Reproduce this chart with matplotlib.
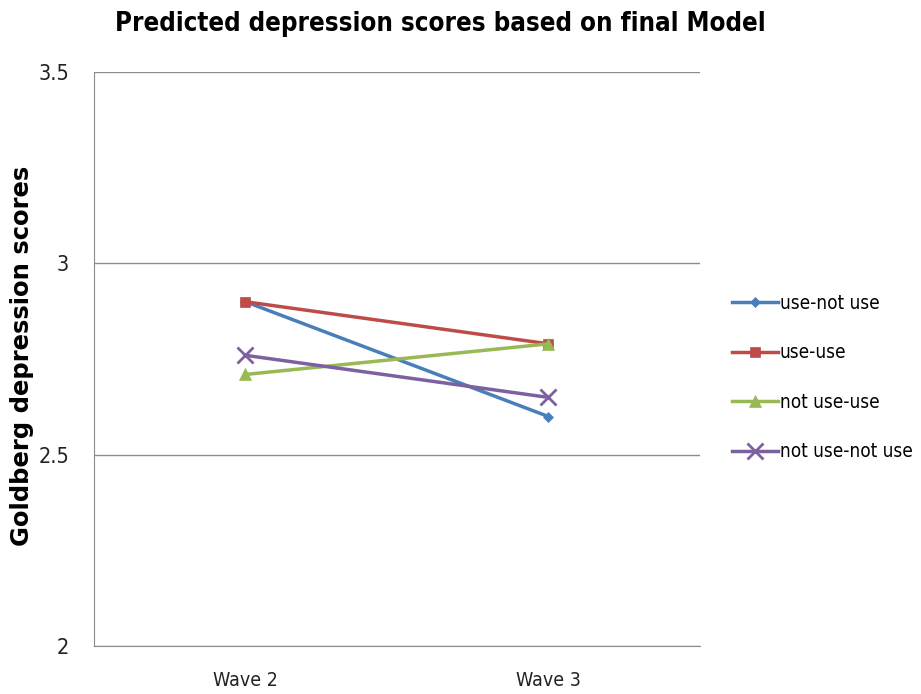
import matplotlib.pyplot as plt

plt.rcParams['font.family'] = ['DejaVu Sans']
plt.rcParams['font.stretch'] = 'condensed'

waves = ['Wave 2', 'Wave 3']
use_not_use = [2.90, 2.60]
use_use = [2.90, 2.79]
not_use_use = [2.71, 2.79]
not_use_not_use = [2.76, 2.65]

series = [
    ('use-not use', use_not_use, '#4a7ebb', 'D', 5),
    ('use-use', use_use, '#be4b48', 's', 7),
    ('not use-use', not_use_use, '#98b954', '^', 8),
    ('not use-not use', not_use_not_use, '#7d60a0', 'x', 11),
]

fig = plt.figure(figsize=(9.21, 6.94), dpi=100)
ax = fig.add_axes([0.102, 0.069, 0.658, 0.827])

x = [0.5, 1.5]
for label, vals, color, marker, ms in series:
    ax.plot(x, vals, color=color, lw=2.5, marker=marker, markersize=ms,
            markeredgewidth=2 if marker == 'x' else 0.5, label=label)

ax.set_xlim(0, 2)
ax.set_ylim(2, 3.5)
ax.set_yticks([2, 2.5, 3, 3.5])
ax.set_yticklabels(['2', '2.5', '3', '3.5'])
ax.set_xticks(x)
ax.set_xticklabels(waves)
ax.tick_params(length=0, colors='#222222')
ax.tick_params(axis='x', pad=18, labelsize=14)
ax.tick_params(axis='y', pad=18, labelsize=15.5)
ax.yaxis.grid(True, color='#8c8c8c', lw=1)
ax.set_axisbelow(True)
for s in ['top', 'right']:
    ax.spines[s].set_visible(False)
for s in ['left', 'bottom']:
    ax.spines[s].set_color('#8c8c8c')

fig.text(0.024, 0.487, 'Goldberg depression scores', rotation=90,
         ha='center', va='center', fontsize=17.5, fontweight='bold',
         fontstretch='normal')
fig.text(0.478, 0.965, 'Predicted depression scores based on final Model',
         ha='center', va='center', fontsize=18.5, fontweight='bold')

fig.legend(loc='center left', bbox_to_anchor=(0.787, 0.456), frameon=False,
           fontsize=13.6, handlelength=2.4, handletextpad=0.1, labelspacing=1.62,
           borderaxespad=0)

fig.savefig('out.png', dpi=100)
